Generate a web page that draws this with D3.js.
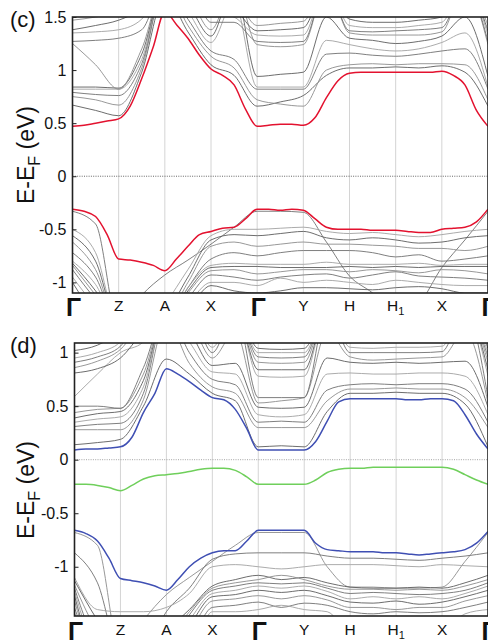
<!DOCTYPE html>
<html>
<head>
<meta charset="utf-8">
<script src="https://cdn.jsdelivr.net/npm/d3@7"></script>
<style>
  body { margin: 0; background: #fff; }
  text { font-family: "Liberation Sans", Arial, Helvetica, sans-serif; fill: #111; }
</style>
</head>
<body>
<svg id="chart" width="488" height="641"></svg>
<script>
// high-symmetry path, k index 0..9
const kPoints = [0, 1, 2, 3, 4, 5, 6, 7, 8, 9];
const kLabels = ["Γ", "Z", "A", "X", "Γ", "Y", "H", "H1", "X", "Γ"];

// ---- panel (c) ----
const cTicks = [-1, -0.5, 0, 0.5, 1, 1.5];
// colored bands sampled every 0.25 in k
const cRedCB = [0.47,0.48,0.50,0.52,0.54,0.66,0.92,1.22,1.55,1.43,1.30,1.14,1.01,0.95,0.86,0.63,0.47,
  0.48,0.49,0.49,0.48,0.55,0.74,0.90,0.97,0.98,0.98,0.98,0.98,0.98,0.98,0.98,0.99,0.95,0.86,0.62,0.47];
const cRedVB = [-0.31,-0.33,-0.38,-0.55,-0.78,-0.79,-0.81,-0.84,-0.89,-0.78,-0.66,-0.55,-0.52,-0.49,-0.48,-0.40,-0.31,
  -0.31,-0.32,-0.31,-0.32,-0.40,-0.48,-0.50,-0.50,-0.50,-0.51,-0.51,-0.51,-0.52,-0.53,-0.53,-0.50,-0.49,-0.48,-0.43,-0.31];
// gray bands sampled every 0.5 in k
const cGrayBands = [
  [0.67,0.62,0.57,0.98,1.70,1.36,1.05,0.95,0.66,0.70,0.76,0.95,1.02,1.02,1.03,1.02,1.04,0.98,0.66],
  [0.75,0.72,0.67,1.02,1.80,1.42,1.13,1.02,0.72,0.68,0.66,1.00,1.05,1.06,1.05,1.06,1.06,1.05,0.72],
  [0.79,0.77,0.76,1.06,1.80,1.48,1.18,1.10,0.82,0.82,0.82,1.15,1.16,1.14,1.13,1.15,1.18,1.20,0.82],
  [0.82,0.82,0.82,1.10,1.80,1.55,1.26,1.65,0.84,0.84,0.84,1.28,1.24,1.20,1.18,1.20,1.26,1.35,0.84],
  [0.84,0.84,0.83,1.15,1.80,1.62,1.32,1.80,0.94,0.96,0.98,1.50,1.30,1.28,1.25,1.27,1.32,1.50,0.94],
  [1.25,1.05,0.82,1.20,1.80,1.70,1.38,1.80,1.24,1.22,1.24,1.80,1.35,1.33,1.33,1.33,1.36,1.80,1.24],
  [1.27,1.28,1.30,1.38,1.80,1.80,1.45,1.45,1.27,1.26,1.27,1.80,1.37,1.36,1.37,1.38,1.40,1.80,1.27],
  [1.35,1.36,1.38,1.48,1.80,1.80,1.55,1.50,1.33,1.32,1.33,1.80,1.42,1.40,1.40,1.42,1.45,1.80,1.33],
  [1.38,1.42,1.47,1.58,1.80,1.80,1.65,1.58,1.37,1.38,1.40,1.80,1.48,1.45,1.45,1.47,1.50,1.80,1.37],
  [1.47,1.50,1.55,1.70,1.80,1.80,1.80,1.70,1.42,1.44,1.46,1.80,1.60,1.55,1.55,1.60,1.60,1.80,1.42],
  [-0.33,-0.45,-1.40,-1.12,-0.93,-0.79,-0.64,-0.48,-0.33,-0.33,-0.34,-0.62,-0.94,-1.10,-1.30,-1.20,-0.86,-0.60,-0.33],
  [-0.50,-0.72,-1.40,-1.40,-1.20,-0.88,-0.56,-0.50,-0.50,-0.49,-0.48,-0.52,-0.54,-0.53,-0.55,-0.57,-0.55,-0.52,-0.50],
  [-0.56,-0.80,-1.40,-1.40,-1.30,-0.95,-0.60,-0.55,-0.56,-0.54,-0.52,-0.58,-0.60,-0.58,-0.60,-0.63,-0.62,-0.58,-0.56],
  [-0.62,-0.88,-1.40,-1.40,-1.35,-1.00,-0.66,-0.62,-0.66,-0.64,-0.62,-0.64,-0.64,-0.65,-0.66,-0.68,-0.68,-0.70,-0.66],
  [-0.72,-0.95,-1.40,-1.40,-1.40,-1.05,-0.78,-0.72,-0.75,-0.72,-0.70,-0.70,-0.70,-0.72,-0.76,-0.74,-0.80,-0.78,-0.75],
  [-0.80,-1.02,-1.40,-1.40,-1.40,-1.05,-0.84,-0.82,-0.83,-0.83,-0.83,-0.81,-0.83,-0.83,-0.83,-0.82,-0.84,-0.83,-0.83],
  [-0.82,-1.08,-1.40,-1.40,-1.40,-1.08,-0.86,-0.85,-0.85,-0.86,-0.86,-0.86,-0.85,-0.86,-0.85,-0.86,-0.85,-0.85,-0.85],
  [-0.84,-1.12,-1.40,-1.40,-1.40,-1.10,-0.89,-0.88,-0.92,-0.90,-0.88,-0.88,-0.90,-0.88,-0.89,-0.91,-0.88,-0.89,-0.92],
  [-0.88,-1.16,-1.40,-1.40,-1.40,-1.15,-0.93,-0.95,-0.98,-0.95,-0.93,-0.92,-0.96,-0.93,-0.90,-0.94,-0.95,-0.96,-0.98],
  [-0.95,-1.22,-1.40,-1.40,-1.40,-1.20,-1.00,-1.00,-1.03,-0.96,-1.00,-0.98,-1.00,-1.02,-0.98,-1.00,-1.02,-1.03,-1.03],
  [-1.00,-1.30,-1.40,-1.40,-1.40,-1.25,-1.03,-1.08,-1.10,-1.08,-1.05,-1.05,-1.06,-1.07,-1.05,-1.04,-1.06,-1.10,-1.10]
];

// ---- panel (d) ----
const dTicks = [-1, -0.5, 0, 0.5, 1];
const dBlueCB = [0.09,0.10,0.10,0.11,0.12,0.21,0.44,0.62,0.85,0.80,0.73,0.65,0.58,0.56,0.47,0.29,0.09,
  0.09,0.09,0.09,0.09,0.17,0.36,0.54,0.57,0.57,0.57,0.57,0.57,0.56,0.56,0.57,0.57,0.55,0.42,0.24,0.10];
const dGreen = [-0.23,-0.23,-0.24,-0.26,-0.29,-0.24,-0.18,-0.15,-0.14,-0.13,-0.11,-0.09,-0.08,-0.08,-0.10,-0.16,-0.23,
  -0.23,-0.23,-0.23,-0.23,-0.19,-0.12,-0.09,-0.08,-0.08,-0.07,-0.07,-0.07,-0.07,-0.07,-0.07,-0.07,-0.09,-0.14,-0.19,-0.23];
const dBlueVB = [-0.66,-0.69,-0.76,-0.92,-1.11,-1.13,-1.15,-1.18,-1.22,-1.12,-1.00,-0.92,-0.87,-0.85,-0.85,-0.76,-0.66,
  -0.66,-0.66,-0.66,-0.66,-0.78,-0.84,-0.85,-0.86,-0.86,-0.86,-0.87,-0.87,-0.88,-0.89,-0.88,-0.87,-0.86,-0.84,-0.78,-0.67];
const dGrayBands = [
  [0.14,0.16,0.19,0.50,0.94,0.80,0.62,0.55,0.12,0.13,0.12,0.45,0.62,0.62,0.63,0.62,0.62,0.52,0.12],
  [0.28,0.28,0.28,0.56,1.30,0.90,0.68,0.62,0.30,0.30,0.30,0.55,0.66,0.66,0.67,0.66,0.66,0.58,0.30],
  [0.31,0.33,0.34,0.62,1.40,1.00,0.75,0.70,0.35,0.36,0.35,0.65,0.70,0.71,0.70,0.71,0.71,0.66,0.35],
  [0.35,0.38,0.40,0.68,1.40,1.10,0.82,0.80,0.42,0.40,0.42,0.80,0.81,0.80,0.80,0.81,0.81,0.78,0.42],
  [0.39,0.43,0.45,0.74,1.40,1.20,0.88,0.90,0.49,0.48,0.49,0.95,0.91,0.90,0.91,0.90,0.91,0.92,0.49],
  [0.44,0.47,0.48,0.80,1.40,1.30,0.95,1.20,0.53,0.55,0.58,1.20,0.96,0.93,0.94,0.95,0.96,1.20,0.53],
  [0.50,0.50,0.48,0.86,1.40,1.40,1.00,1.40,0.58,0.58,0.58,1.40,1.00,1.00,1.00,1.00,1.01,1.40,0.58],
  [0.59,0.80,1.00,1.10,1.40,1.40,1.05,1.40,0.78,0.77,0.78,1.40,1.05,1.04,1.05,1.05,1.06,1.40,0.78],
  [0.81,0.85,0.95,1.20,1.40,1.40,1.20,1.40,0.84,0.84,0.84,1.40,1.10,1.10,1.10,1.10,1.10,1.40,0.84],
  [0.86,0.92,1.03,1.30,1.40,1.40,1.30,1.40,0.91,0.90,0.91,1.40,1.20,1.20,1.20,1.20,1.20,1.40,0.91],
  [0.91,0.96,1.06,1.40,1.40,1.40,1.40,1.40,0.96,0.95,0.96,1.40,1.30,1.30,1.30,1.30,1.30,1.40,0.96],
  [0.95,1.00,1.10,1.40,1.40,1.40,1.40,1.40,1.00,1.00,1.00,1.40,1.40,1.40,1.40,1.40,1.40,1.40,1.00],
  [1.02,1.07,1.20,1.40,1.40,1.40,1.40,1.40,1.04,1.03,1.04,1.40,1.40,1.40,1.40,1.40,1.40,1.40,1.04],
  [-0.68,-0.80,-1.80,-1.50,-1.26,-1.10,-0.95,-0.80,-0.68,-0.68,-0.68,-1.00,-1.19,-1.19,-1.20,-1.20,-1.19,-0.95,-0.68],
  [-0.87,-1.15,-1.80,-1.80,-1.42,-1.20,-0.93,-0.88,-0.87,-0.87,-0.87,-0.90,-0.92,-0.92,-0.93,-0.94,-0.92,-0.90,-0.87],
  [-1.10,-1.40,-1.42,-1.42,-1.38,-1.25,-1.00,-0.98,-1.00,-1.02,-1.00,-0.98,-0.98,-0.98,-0.99,-1.00,-0.98,-0.99,-1.00],
  [-1.13,-1.50,-1.80,-1.80,-1.60,-1.40,-1.18,-1.12,-1.08,-1.12,-1.10,-1.15,-1.19,-1.20,-1.20,-1.19,-1.20,-1.15,-1.08],
  [-1.17,-1.60,-1.80,-1.80,-1.70,-1.42,-1.20,-1.15,-1.12,-1.08,-1.12,-1.18,-1.21,-1.21,-1.22,-1.21,-1.22,-1.18,-1.12],
  [-1.20,-1.70,-1.80,-1.80,-1.80,-1.45,-1.22,-1.18,-1.15,-1.16,-1.15,-1.20,-1.25,-1.24,-1.25,-1.26,-1.25,-1.22,-1.15],
  [-1.23,-1.75,-1.80,-1.80,-1.80,-1.50,-1.25,-1.22,-1.18,-1.20,-1.18,-1.23,-1.30,-1.28,-1.30,-1.28,-1.30,-1.25,-1.18],
  [-1.27,-1.80,-1.80,-1.80,-1.80,-1.55,-1.28,-1.26,-1.22,-1.24,-1.22,-1.27,-1.33,-1.34,-1.32,-1.35,-1.33,-1.28,-1.22],
  [-1.32,-1.80,-1.80,-1.80,-1.80,-1.60,-1.32,-1.30,-1.27,-1.30,-1.27,-1.31,-1.38,-1.38,-1.40,-1.38,-1.38,-1.32,-1.27],
  [-1.38,-1.80,-1.80,-1.80,-1.80,-1.70,-1.38,-1.36,-1.33,-1.38,-1.34,-1.36,-1.42,-1.44,-1.42,-1.43,-1.42,-1.38,-1.33],
  [-1.43,-1.80,-1.80,-1.80,-1.80,-1.80,-1.42,-1.42,-1.40,-1.36,-1.40,-1.42,-1.60,-1.50,-1.48,-1.50,-1.60,-1.44,-1.40]
];

const grayShades = ["#5c5c5c", "#8c8c8c", "#707070", "#a2a2a2"];

const svg = d3.select("#chart");

function drawPanel(cfg) {
  const x = d3.scaleLinear().domain([0, 9]).range([cfg.left, cfg.right]);
  const y = d3.scaleLinear().domain(cfg.yDomain).range([cfg.bottom, cfg.top]);
  const g = svg.append("g");

  const clipId = "clip-" + cfg.name;
  g.append("clipPath").attr("id", clipId)
    .append("rect")
    .attr("x", cfg.left).attr("y", cfg.top)
    .attr("width", cfg.right - cfg.left).attr("height", cfg.bottom - cfg.top);

  const plot = g.append("g").attr("clip-path", `url(#${clipId})`);

  // vertical lines at high-symmetry points
  plot.selectAll(".kline")
    .data(kPoints.slice(1, -1))
    .enter().append("line")
    .attr("x1", d => x(d)).attr("x2", d => x(d))
    .attr("y1", cfg.top).attr("y2", cfg.bottom)
    .attr("stroke", "#d4d4d4").attr("stroke-width", 1);

  // Fermi level
  plot.append("line")
    .attr("x1", cfg.left).attr("x2", cfg.right)
    .attr("y1", y(0)).attr("y2", y(0))
    .attr("stroke", cfg.zeroColor).attr("stroke-width", 0.9)
    .attr("stroke-dasharray", "1,1.3");

  const line = vals => d3.line()
    .x((v, i) => x(i * 9 / (vals.length - 1)))
    .y(v => y(v))
    .curve(d3.curveMonotoneX)(vals);

  plot.selectAll(".gband")
    .data(cfg.gray)
    .enter().append("path")
    .attr("d", d => line(d))
    .attr("fill", "none")
    .attr("stroke", (d, i) => grayShades[i % grayShades.length])
    .attr("stroke-width", 0.9);

  cfg.colored.forEach(c => {
    plot.append("path")
      .attr("d", line(c.values))
      .attr("fill", "none")
      .attr("stroke", c.color)
      .attr("stroke-width", 1.5);
  });

  // frame
  g.append("rect")
    .attr("x", cfg.left).attr("y", cfg.top)
    .attr("width", cfg.right - cfg.left).attr("height", cfg.bottom - cfg.top)
    .attr("fill", "none").attr("stroke", "#222").attr("stroke-width", 1.6);

  // y axis
  const yAxis = g.append("g")
    .attr("transform", `translate(${cfg.left},0)`)
    .call(d3.axisLeft(y).tickValues(cfg.ticks).tickSizeInner(-4).tickSizeOuter(0).tickPadding(6)
      .tickFormat(d => String(d)));
  yAxis.select(".domain").remove();
  yAxis.selectAll(".tick line").attr("stroke", "#222");
  yAxis.selectAll(".tick text")
    .attr("font-size", 16)
    .attr("fill", "#111")
    .style("font-family", '"Liberation Sans", Arial, sans-serif');

  // k labels
  kLabels.forEach((lab, i) => {
    if (lab === "Γ") {
      g.append("text")
        .attr("x", x(kPoints[i]) + 1).attr("y", cfg.bottom + cfg.gammaOffset)
        .attr("text-anchor", "middle")
        .attr("font-size", 25).attr("font-weight", "bold")
        .text(lab);
    } else if (lab === "H1") {
      const t = g.append("text")
        .attr("x", x(kPoints[i])).attr("y", cfg.bottom + cfg.labelOffset)
        .attr("text-anchor", "middle")
        .attr("font-size", 15.5);
      t.append("tspan").text("H");
      t.append("tspan").attr("font-size", 11).attr("dy", 4).text("1");
    } else {
      g.append("text")
        .attr("x", x(kPoints[i])).attr("y", cfg.bottom + cfg.labelOffset)
        .attr("text-anchor", "middle")
        .attr("font-size", 15.5)
        .text(lab);
    }
  });

  // panel letter
  g.append("text")
    .attr("x", 10).attr("y", cfg.letterY)
    .attr("font-size", 22)
    .text(cfg.letter);

  // y label
  const yl = g.append("text")
    .attr("transform", `translate(34,${cfg.ylabelY}) rotate(-90)`)
    .attr("text-anchor", "middle")
    .attr("font-size", 23);
  yl.append("tspan").text("E-E");
  yl.append("tspan").attr("font-size", 16).attr("dy", 6).text("F");
  yl.append("tspan").attr("dy", -6).text(" (eV)");
}

drawPanel({
  name: "c", letter: "(c)", letterY: 27,
  left: 72.5, right: 488, top: 17, bottom: 293,
  yDomain: [-1.1, 1.5], ticks: cTicks,
  zeroColor: "#555",
  labelOffset: 17.5, gammaOffset: 23, ylabelY: 155,
  gray: cGrayBands,
  colored: [
    { values: cRedCB, color: "#e3122f" },
    { values: cRedVB, color: "#e3122f" }
  ]
});

drawPanel({
  name: "d", letter: "(d)", letterY: 353,
  left: 74.5, right: 488, top: 343, bottom: 616,
  yDomain: [-1.46, 1.09], ticks: dTicks,
  zeroColor: "#999",
  labelOffset: 19, gammaOffset: 23.5, ylabelY: 490,
  gray: dGrayBands,
  colored: [
    { values: dBlueCB, color: "#3f4fb3" },
    { values: dGreen, color: "#6fcf5b" },
    { values: dBlueVB, color: "#3f4fb3" }
  ]
});
</script>
</body>
</html>
